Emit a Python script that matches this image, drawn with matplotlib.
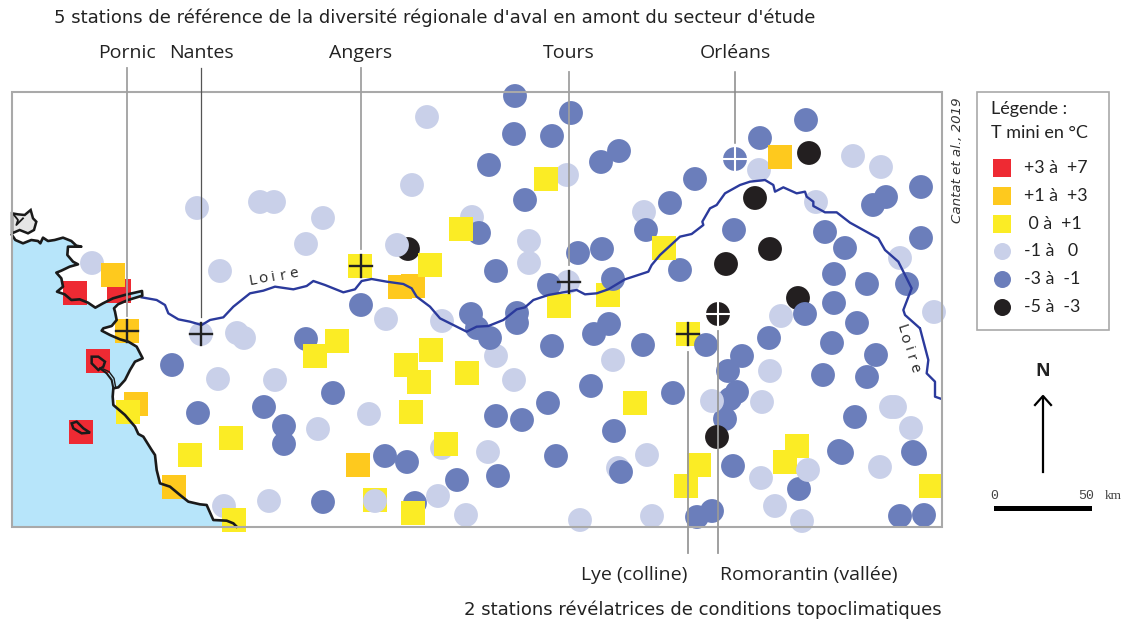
import numpy as np
import matplotlib
matplotlib.use("Agg")
import matplotlib.pyplot as plt
from matplotlib.patches import Polygon, Rectangle

# --- stations (map position in reference pixels) per temperature class ---
light = [(92,263),(197,208),(220,271),(201,334),(237,333),(244,338),(218,379),(224,506),(260,202),(274,202),
         (323,218),(306,244),(412,185),(427,117),(472,217),(529,241),(529,263),(567,175),(568,282),(386,319),
         (442,321),(275,380),(318,429),(369,414),(269,501),(438,496),(466,515),(442,448),(488,452),(496,356),
         (514,380),(580,520),(644,212),(759,170),(853,156),(881,167),(816,202),(900,258),(934,312),(781,316),
         (613,360),(770,371),(762,402),(891,407),(895,407),(911,428),(880,467),(761,478),(775,506),(802,521),
         (652,516),(647,455),(618,468)]
light_top = [(397,245),(375,501),(808,470),(712,401)]
medium = [(515,96),(514,134),(552,136),(571,113),(489,165),(525,200),(479,233),(496,271),(578,253),(549,285),
          (361,305),(471,314),(477,328),(490,338),(517,313),(517,323),(552,346),(619,151),(601,162),(695,179),
          (670,203),(760,138),(806,120),(921,187),(886,197),(873,205),(646,230),(734,230),(825,232),(845,248),
          (921,238),(602,249),(680,270),(834,274),(867,284),(907,284),(834,303),(805,314),(857,323),(609,324),
          (594,334),(643,345),(742,356),(769,338),(832,343),(876,355),(728,371),(823,375),(867,377),(591,386),
          (673,393),(737,392),(730,399),(725,419),(855,417),(614,431),(839,451),(842,453),(913,452),(915,454),
          (733,466),(621,472),(799,489),(712,511),(697,517),(900,516),(924,515),(306,339),(333,393),(264,407),
          (284,426),(284,444),(198,413),(172,365),(385,456),(407,462),(457,480),(498,476),(323,502),(415,503),
          (496,416),(522,420),(548,403),(556,456)]
medium_top = [(613,279),(706,345)]
black_under = [(408,249),(798,298)]
black = [(809,153),(755,198),(770,249),(726,264),(718,314),(717,437)]
yellow = [(461,229),(430,265),(546,179),(559,306),(360,266),(664,248),(608,295),(688,334),(635,403),(699,465),
          (686,486),(797,446),(785,462),(931,486),(337,341),(315,356),(431,350),(406,365),(419,382),(467,373),
          (411,412),(231,438),(446,444),(375,500),(413,513),(234,520),(128,412),(190,455)]
orange = [(113,275),(127,331),(136,404),(174,487),(400,287),(413,286),(780,157),(358,465)]
red = [(75,293),(119,291),(98,361),(81,432)]

# --- geography, read in zoomed crops (3x) with their origin ---
coast_a = [(12,90),(22,105),(45,115),(70,105),(90,108),(97,115),(105,98),(120,108),(140,105),(165,98),(190,108),(205,122),
           (220,125),(180,125),(178,150),(195,170),(210,178),(185,185),(160,197),(145,203),(160,220),(165,245),(147,260),
           (170,268),(190,285),(215,283),(240,293),(262,308),(285,295),(315,280),(350,270),(385,262),(402,258),(403,272),
           (360,285),(330,298),(318,310)]
coast_b = [(165,35),(170,60),(155,78),(130,85),(125,92),(150,105),(180,118),(205,125),(230,140),(248,175),(225,185),
           (210,210),(195,240),(175,262),(160,265),(158,290),(160,315),(195,345),(225,380),(235,402),(250,410),(275,450)]
coast_c = [(465,795),(470,840),(480,880),(510,890),(540,915),(565,935),(600,943),(620,945),(640,990),(680,992),(700,1000),(710,1010)]
strip_z = [(160,265),(155,240),(140,220),(120,205)]
strip2_z = [(167,262),(162,235),(147,215),(130,207)]
noirmoutier_z = [(95,170),(115,170),(135,185),(130,200),(115,210),(95,190)]
yeu_z = [(35,370),(50,365),(70,385),(90,398),(65,400),(40,385)]
batz_z = [(12,25),(30,28),(50,30),(68,15),(75,40),(85,50),(78,75),(60,85),(35,75),(12,85)]
batz_in = [(18,30),(30,45),(25,60),(45,40)]
loire_a = [(425,322),(470,330),(495,345),(505,370),(535,388),(570,395),(605,405)]
loire_b = [(30,720),(70,712),(100,680),(150,640),(190,632),(225,620),(280,628),(320,618),(340,603),(375,615),(430,637),
           (465,628),(485,603),(515,597),(560,605),(610,612),(635,625),(650,650),(690,680),(720,715),(760,735),(800,755),
           (830,740),(865,738),(910,720),(950,688),(975,682),(1000,660),(1045,645),(1090,637)]
loire_c = [(20,630),(45,643),(80,640),(115,628),(165,598),(235,575),(245,555),(270,525),(330,470),(365,462),(400,435),
           (397,425),(420,385),(440,375),(465,340),(510,315),(540,305),(585,300),(610,315),(615,335),(640,322),(680,340),
           (705,335),(710,350),(730,365),(730,378),(765,397),(800,397),(840,428),(925,475),(945,510),(985,545),(1025,625),
           (1000,690),(1005,705),(1050,745)]
loire_d = [(1050,85),(1075,180),(1070,220),(1095,245),(1095,290),(1112,296)]

# --- labelled stations ---
top_names = ["Pornic","Nantes","Angers","Tours","Orléans"]
top_x = [127,201,360.5,569,735]
top_y_start = [68,68,68,72,72]
top_y_end = [316,317,249,265,143]
top_col = ["#a0a0a0","#555555","#a0a0a0","#a0a0a0","#888888"]
top_lw = [1.3,0.9,1.3,1.3,1.1]
bottom_names = ["Lye (colline)","Romorantin (vallée)"]
legend_labels = ["+3 à  +7","+1 à  +3"," 0 à  +1","-1 à   0","-3 à  -1","-5 à  -3"]

C_LIGHT,C_MED,C_BLACK = "#c9d0e9","#6b7ebb","#231f20"
C_YEL,C_ORA,C_RED = "#fbec25","#fec91e","#ee2a33"
C_SEA,C_RIV,C_FR = "#b7e5fa","#2b3a9c","#a9a9a9"
FONT = "Open Sans"
WIDE = "DejaVu Sans"

def conv(z, ox, oy):
    a = np.asarray(z, float)
    return np.c_[ox + a[:,0]/3, oy + a[:,1]/3]

fig = plt.figure(figsize=(11.24,6.21), dpi=100)
ax = fig.add_axes([0,0,1,1])
ax.set_xlim(0,1124); ax.set_ylim(621,0); ax.axis("off")

coast = np.vstack([conv(coast_a,8,205), conv(coast_b,60,300), conv(coast_c,0,190)])
sea = np.vstack([coast, [[237,527],[12,527]]])
ax.add_patch(Polygon(sea, closed=True, fc=C_SEA, ec="none", zorder=1))

D = 295
def pts(lst, marker, color, z, s=D):
    a = np.asarray(lst, float)
    ax.scatter(a[:,0], a[:,1], s=s, marker=marker, c=color, edgecolors="none", linewidths=0, zorder=z)

pts(red,"s",C_RED,2); pts(black_under,"o",C_BLACK,2.5)
pts(light,"o",C_LIGHT,3); pts(medium,"o",C_MED,4)
pts(orange,"s",C_ORA,5); pts(yellow,"s",C_YEL,6)
pts(medium_top,"o",C_MED,7); pts(light_top,"o",C_LIGHT,7); pts(black,"o",C_BLACK,7.5)

# coast and islands
LC = "#1a1a1a"
ax.plot(*coast.T, color=LC, lw=1.9, zorder=9, solid_joinstyle="round")
ax.plot(*conv(strip_z,60,300).T, color=LC, lw=1.5, zorder=9)
ax.plot(*conv(strip2_z,60,300).T, color=LC, lw=1.0, zorder=9)
for isl in (noirmoutier_z, yeu_z):
    ax.add_patch(Polygon(conv(isl,60,300), closed=True, fc="none", ec=LC, lw=1.8, zorder=9))
ax.add_patch(Polygon(conv(batz_z,8,205), closed=True, fc="#e6e6e6", ec=LC, lw=1.8, zorder=9))
ax.plot(*conv(batz_in,8,205).T, color=LC, lw=1.3, zorder=9)

# Loire
river = np.vstack([conv(loire_a,0,190), conv(loire_b,200,80), conv(loire_c,570,80), conv(loire_d,570,300)])
ax.plot(*river.T, color=C_RIV, lw=1.7, zorder=8.5, solid_joinstyle="round")

def spaced(word, x0, y0, angle, step):
    t = np.deg2rad(angle)
    for i, ch in enumerate(word):
        ax.text(x0 + i*step*np.cos(t), y0 - i*step*np.sin(t), ch, rotation=angle, rotation_mode="anchor",
                ha="center", va="center", fontsize=11, family=FONT, color="#222222", zorder=10)
spaced("Loire", 253, 281, 10, 10.3)
spaced("Loire", 901, 329, -72, 10.2)

# frame
ax.add_patch(Rectangle((12,92),930,435, fc="none", ec=C_FR, lw=1.5, zorder=9.5))

# leader lines and station labels
for n, x, ys, ye, c, w in zip(top_names, top_x, top_y_start, top_y_end, top_col, top_lw):
    ax.plot([x,x],[ys, ye], color=c, lw=w, zorder=9.6)
    ax.text(x, 53, n, ha="center", va="center", fontsize=14, family=FONT, color="#222222")
ax.plot([688,688],[352,553], color="#999999", lw=1.3, zorder=9.6)
ax.plot([718,718],[331,553], color="#999999", lw=1.3, zorder=9.6)
ax.text(687, 575, bottom_names[0], ha="right", va="center", fontsize=14, family=FONT, color="#222222")
ax.text(720, 575, bottom_names[1], ha="left", va="center", fontsize=14, family=FONT, color="#222222")

# crosses
for x, y in ((127,331),(201,334),(360.5,266),(569,282),(688,334)):
    ax.plot([x-11,x+11],[y,y], color="#222222", lw=1.7, zorder=10)
    ax.plot([x,x],[y-11,y+11], color="#222222", lw=1.7, zorder=10)
pts([(735,159)],"o",C_MED,9.7)
for x, y in ((735,159),(718,314)):
    ax.plot([x-12,x+12],[y,y], color="white", lw=1.5, zorder=10)
    ax.plot([x,x],[y-12,y+12], color="white", lw=1.5, zorder=10)

# titles
ax.text(54, 18, "5 stations de référence de la diversité régionale d'aval en amont du secteur d'étude",
        ha="left", va="center", fontsize=12.95, family=WIDE, color="#222222")
ax.text(464, 610, "2 stations révélatrices de conditions topoclimatiques",
        ha="left", va="center", fontsize=12.95, family=WIDE, color="#222222")
ax.text(958, 160, "Cantat et al., 2019", rotation=90, ha="center", va="center", fontsize=9.6, family=WIDE,
        style="italic", color="#333333")

# legend
ax.add_patch(Rectangle((977,92),132,238, fc="white", ec=C_FR, lw=1.2, zorder=2))
ax.text(991,109,"Légende :",ha="left",va="center",fontsize=13,family="Lato",color="#222222")
ax.text(991,133,"T mini en °C",ha="left",va="center",fontsize=13,family="Lato",color="#222222")
leg_y = [168,196,224,251,279,307]
leg_m = ["s","s","s","o","o","o"]
leg_c = [C_RED,C_ORA,C_YEL,C_LIGHT,C_MED,C_BLACK]
for y, m, c, lab in zip(leg_y, leg_m, leg_c, legend_labels):
    ax.scatter([1002],[y], s=150, marker=m, c=c, linewidths=0, zorder=3)
    ax.text(1024,y,lab,ha="left",va="center",fontsize=12.8,family="Lato",color="#222222",zorder=3)

# north arrow and scale
ax.text(1043,371,"N",ha="center",va="center",fontsize=13,fontweight="bold",family=FONT,color="#222222")
ax.plot([1043,1043],[472,397],color="black",lw=1.6)
ax.plot([1035,1043,1051],[405,396,405],color="black",lw=1.6)
ax.add_patch(Rectangle((994,506),98,5,fc="black",ec="none"))
ax.text(994,496,"0",ha="center",va="center",fontsize=9.5,family="Liberation Mono",color="#444444")
ax.text(1086,496,"50",ha="center",va="center",fontsize=9.5,family="Liberation Mono",color="#444444")
ax.text(1113,496,"km",ha="center",va="center",fontsize=9.5,family="Liberation Serif",color="#444444")

fig.savefig("out.png", dpi=100)
